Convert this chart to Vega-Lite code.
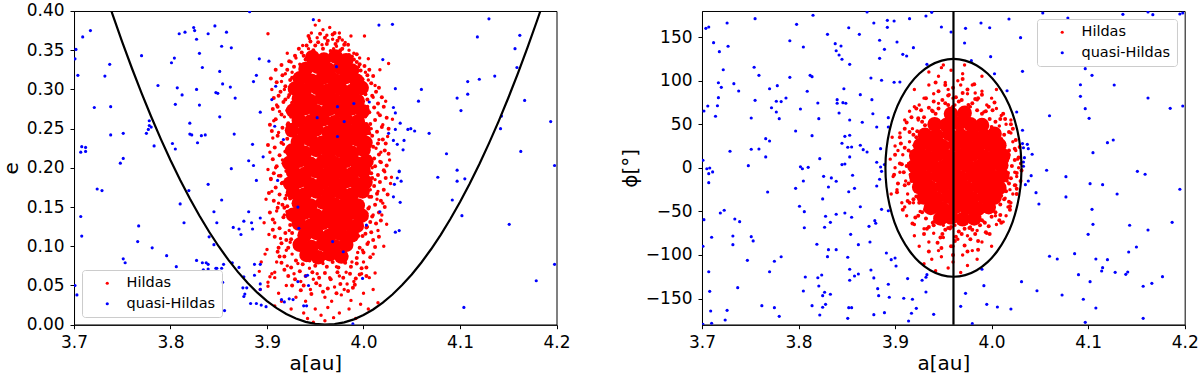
{
"$schema": "https://vega.github.io/schema/vega-lite/v6.json",
"background": "white",
"padding": {"left": 0, "top": 1, "right": 0, "bottom": 0},
"spacing": 48,
"config": {
 "font": "DejaVu Sans",
 "view": {"stroke": "black", "strokeWidth": 1},
 "axis": {"grid": false, "domainColor": "black", "domainWidth": 1, "tickColor": "black", "tickWidth": 1, "tickSize": 4, "labelPadding": 6, "labelColor": "black", "labelFontSize": 17, "labelFont": "DejaVu Sans", "titleFont": "DejaVu Sans", "titleFontSize": 20, "titleFontWeight": "normal", "titleColor": "black", "labelFlush": false, "labelOverlap": false, "labelBound": false},
 "axisY": {"titlePadding": 5},
 "axisX": {"titlePadding": 3},
 "legend": {"title": null, "fillColor": "rgba(255,255,255,0.8)", "strokeColor": "#cccccc", "cornerRadius": 3, "padding": 6, "symbolType": "circle", "symbolSize": 10, "symbolOffset": 12, "labelOffset": 12, "labelFontSize": 14.5, "labelFont": "DejaVu Sans", "labelColor": "black", "rowPadding": 5.5, "symbolStrokeWidth": 0, "offset": 8}
},
"resolve": {"scale": {"color": "independent"}, "legend": {"color": "independent"}},
"datasets": {
 "lc": [
{"a":3.947,"e":0.341},{"a":3.959,"e":0.338},{"a":3.971,"e":0.342},{"a":3.982,"e":0.337},
{"a":3.940,"e":0.326},{"a":3.952,"e":0.329},{"a":3.964,"e":0.325},{"a":3.976,"e":0.328},{"a":3.988,"e":0.324},
{"a":3.934,"e":0.314},{"a":3.946,"e":0.311},{"a":3.958,"e":0.315},{"a":3.970,"e":0.312},{"a":3.982,"e":0.316},{"a":3.993,"e":0.311},
{"a":3.929,"e":0.301},{"a":3.939,"e":0.298},{"a":3.952,"e":0.302},{"a":3.964,"e":0.299},{"a":3.976,"e":0.301},{"a":3.988,"e":0.298},{"a":3.998,"e":0.302},
{"a":3.933,"e":0.288},{"a":3.945,"e":0.285},{"a":3.957,"e":0.289},{"a":3.970,"e":0.286},{"a":3.982,"e":0.288},{"a":3.994,"e":0.285},
{"a":3.927,"e":0.273},{"a":3.939,"e":0.276},{"a":3.951,"e":0.272},{"a":3.964,"e":0.275},{"a":3.976,"e":0.273},{"a":3.988,"e":0.276},{"a":3.999,"e":0.272},
{"a":3.933,"e":0.261},{"a":3.945,"e":0.259},{"a":3.958,"e":0.262},{"a":3.970,"e":0.258},{"a":3.982,"e":0.261},{"a":3.994,"e":0.259},
{"a":3.926,"e":0.248},{"a":3.939,"e":0.246},{"a":3.951,"e":0.249},{"a":3.964,"e":0.245},{"a":3.976,"e":0.248},{"a":3.988,"e":0.246},{"a":4.000,"e":0.249},
{"a":3.932,"e":0.233},{"a":3.945,"e":0.236},{"a":3.957,"e":0.232},{"a":3.970,"e":0.235},{"a":3.982,"e":0.233},{"a":3.994,"e":0.236},{"a":4.002,"e":0.232},
{"a":3.926,"e":0.222},{"a":3.939,"e":0.219},{"a":3.951,"e":0.223},{"a":3.964,"e":0.220},{"a":3.976,"e":0.222},{"a":3.988,"e":0.219},{"a":4.000,"e":0.223},
{"a":3.923,"e":0.206},{"a":3.933,"e":0.209},{"a":3.945,"e":0.205},{"a":3.958,"e":0.208},{"a":3.970,"e":0.206},{"a":3.982,"e":0.209},{"a":3.994,"e":0.205},{"a":4.003,"e":0.208},
{"a":3.927,"e":0.195},{"a":3.939,"e":0.192},{"a":3.951,"e":0.196},{"a":3.964,"e":0.193},{"a":3.976,"e":0.195},{"a":3.988,"e":0.192},{"a":4.000,"e":0.196},
{"a":3.924,"e":0.180},{"a":3.933,"e":0.183},{"a":3.945,"e":0.179},{"a":3.958,"e":0.182},{"a":3.970,"e":0.180},{"a":3.982,"e":0.183},{"a":3.994,"e":0.179},{"a":4.002,"e":0.182},
{"a":3.927,"e":0.169},{"a":3.939,"e":0.166},{"a":3.951,"e":0.170},{"a":3.964,"e":0.167},{"a":3.976,"e":0.169},{"a":3.988,"e":0.166},{"a":3.999,"e":0.170},
{"a":3.933,"e":0.155},{"a":3.945,"e":0.152},{"a":3.958,"e":0.156},{"a":3.970,"e":0.153},{"a":3.982,"e":0.155},{"a":3.994,"e":0.152},
{"a":3.927,"e":0.140},{"a":3.939,"e":0.143},{"a":3.951,"e":0.139},{"a":3.964,"e":0.142},{"a":3.976,"e":0.140},{"a":3.988,"e":0.143},{"a":3.998,"e":0.139},
{"a":3.933,"e":0.129},{"a":3.945,"e":0.126},{"a":3.958,"e":0.130},{"a":3.970,"e":0.127},{"a":3.982,"e":0.129},{"a":3.993,"e":0.126},
{"a":3.939,"e":0.114},{"a":3.951,"e":0.117},{"a":3.964,"e":0.113},{"a":3.976,"e":0.116},{"a":3.988,"e":0.114},
{"a":3.934,"e":0.102},{"a":3.946,"e":0.099},{"a":3.958,"e":0.103},{"a":3.970,"e":0.100},{"a":3.982,"e":0.102},
{"a":3.941,"e":0.089},{"a":3.953,"e":0.086},{"a":3.965,"e":0.090},{"a":3.977,"e":0.087}
 ],
 "lm": [
{"a":3.918,"e":0.087},{"a":3.911,"e":0.093},{"a":3.922,"e":0.098},{"a":3.915,"e":0.104},{"a":3.925,"e":0.109},{"a":3.908,"e":0.112},{"a":3.919,"e":0.117},{"a":3.913,"e":0.123},{"a":3.924,"e":0.127},{"a":3.906,"e":0.134},{"a":3.917,"e":0.137},{"a":3.921,"e":0.144},{"a":3.911,"e":0.149},{"a":3.916,"e":0.153},{"a":3.907,"e":0.158},{"a":3.919,"e":0.161},{"a":3.913,"e":0.166},{"a":3.923,"e":0.172},{"a":3.909,"e":0.175},{"a":3.916,"e":0.181},{"a":3.904,"e":0.186},{"a":3.914,"e":0.190},{"a":3.920,"e":0.196},{"a":3.910,"e":0.202},{"a":3.917,"e":0.206},{"a":3.906,"e":0.211},{"a":3.913,"e":0.216},{"a":3.919,"e":0.221},{"a":3.908,"e":0.226},{"a":3.915,"e":0.232},{"a":3.921,"e":0.237},{"a":3.911,"e":0.241},{"a":3.905,"e":0.247},{"a":3.916,"e":0.251},{"a":3.922,"e":0.257},{"a":3.909,"e":0.262},{"a":3.915,"e":0.268},{"a":3.921,"e":0.273},{"a":3.911,"e":0.278},{"a":3.917,"e":0.284},{"a":3.907,"e":0.289},{"a":3.923,"e":0.293},{"a":3.914,"e":0.297},{"a":3.919,"e":0.304},{"a":3.910,"e":0.309},{"a":3.924,"e":0.312},{"a":3.916,"e":0.318},{"a":3.921,"e":0.325},{"a":3.928,"e":0.329},{"a":3.923,"e":0.336},{"a":3.929,"e":0.343},
{"a":3.993,"e":0.085},{"a":4.000,"e":0.092},{"a":3.996,"e":0.098},{"a":4.004,"e":0.103},{"a":4.010,"e":0.108},{"a":3.999,"e":0.113},{"a":4.008,"e":0.118},{"a":4.003,"e":0.124},{"a":4.013,"e":0.129},{"a":4.000,"e":0.134},{"a":4.009,"e":0.138},{"a":4.016,"e":0.143},{"a":4.005,"e":0.148},{"a":4.012,"e":0.153},{"a":4.018,"e":0.158},{"a":4.008,"e":0.163},{"a":4.014,"e":0.167},{"a":4.021,"e":0.172},{"a":4.011,"e":0.177},{"a":4.017,"e":0.182},{"a":4.009,"e":0.187},{"a":4.015,"e":0.191},{"a":4.021,"e":0.197},{"a":4.012,"e":0.202},{"a":4.018,"e":0.207},{"a":4.011,"e":0.212},{"a":4.016,"e":0.217},{"a":4.022,"e":0.222},{"a":4.010,"e":0.227},{"a":4.015,"e":0.231},{"a":4.020,"e":0.236},{"a":4.009,"e":0.241},{"a":4.014,"e":0.246},{"a":4.019,"e":0.252},{"a":4.007,"e":0.256},{"a":4.012,"e":0.261},{"a":4.017,"e":0.267},{"a":4.006,"e":0.271},{"a":4.011,"e":0.277},{"a":4.015,"e":0.282},{"a":4.004,"e":0.287},{"a":4.009,"e":0.292},{"a":4.013,"e":0.297},{"a":4.003,"e":0.303},{"a":4.008,"e":0.308},{"a":3.999,"e":0.313},{"a":4.004,"e":0.318},{"a":3.997,"e":0.324},{"a":4.001,"e":0.330},{"a":3.993,"e":0.335},{"a":3.988,"e":0.342},
{"a":3.936,"e":0.347},{"a":3.941,"e":0.356},{"a":3.948,"e":0.350},{"a":3.953,"e":0.360},{"a":3.958,"e":0.352},{"a":3.963,"e":0.362},{"a":3.966,"e":0.349},{"a":3.971,"e":0.358},{"a":3.976,"e":0.350},{"a":3.980,"e":0.357},{"a":3.985,"e":0.344},{"a":3.940,"e":0.338},{"a":3.993,"e":0.345},{"a":3.960,"e":0.366},{"a":3.955,"e":0.371},{"a":3.945,"e":0.361},{"a":3.975,"e":0.366},{"a":3.970,"e":0.372},
{"a":3.930,"e":0.082},{"a":3.937,"e":0.077},{"a":3.944,"e":0.082},{"a":3.950,"e":0.075},{"a":3.957,"e":0.081},{"a":3.962,"e":0.074},{"a":3.968,"e":0.080},{"a":3.974,"e":0.073},{"a":3.981,"e":0.079},{"a":3.987,"e":0.074},{"a":3.993,"e":0.078},{"a":3.934,"e":0.068},{"a":3.940,"e":0.062},{"a":3.947,"e":0.067},{"a":3.954,"e":0.060},{"a":3.960,"e":0.066},{"a":3.966,"e":0.058},{"a":3.973,"e":0.067},{"a":3.979,"e":0.060},{"a":3.986,"e":0.065},{"a":3.992,"e":0.059},{"a":3.938,"e":0.050},{"a":3.951,"e":0.053},{"a":3.963,"e":0.046},{"a":3.976,"e":0.052},{"a":3.989,"e":0.047},{"a":3.929,"e":0.058},{"a":3.998,"e":0.072},{"a":4.003,"e":0.062},{"a":3.925,"e":0.073},
{"a":3.912,"e":0.098},{"a":3.906,"e":0.121},{"a":3.903,"e":0.143},{"a":3.921,"e":0.151},{"a":3.902,"e":0.168},{"a":3.924,"e":0.184},{"a":3.907,"e":0.193},{"a":3.901,"e":0.229},{"a":3.924,"e":0.228},{"a":3.903,"e":0.255},{"a":3.925,"e":0.265},{"a":3.906,"e":0.275},{"a":3.912,"e":0.292},{"a":3.904,"e":0.314},{"a":3.915,"e":0.331},{"a":3.919,"e":0.287},{"a":3.925,"e":0.301},{"a":3.926,"e":0.315},{"a":3.909,"e":0.325},{"a":3.933,"e":0.352},{"a":3.938,"e":0.343},{"a":3.943,"e":0.368},{"a":3.950,"e":0.356},{"a":3.962,"e":0.358},{"a":3.968,"e":0.370},{"a":3.973,"e":0.362},{"a":3.978,"e":0.352},{"a":3.984,"e":0.357},{"a":3.990,"e":0.338},{"a":3.996,"e":0.332},{"a":4.006,"e":0.325},{"a":4.010,"e":0.317},{"a":4.016,"e":0.302},{"a":4.019,"e":0.290},{"a":4.021,"e":0.278},{"a":4.024,"e":0.264},{"a":4.026,"e":0.250},{"a":4.023,"e":0.231},{"a":4.026,"e":0.218},{"a":4.024,"e":0.203},{"a":4.023,"e":0.187},{"a":4.025,"e":0.166},{"a":4.022,"e":0.150},{"a":4.018,"e":0.133},{"a":4.016,"e":0.112},{"a":4.012,"e":0.099},{"a":4.007,"e":0.086},{"a":4.003,"e":0.073},{"a":3.996,"e":0.064},{"a":3.991,"e":0.051},{"a":3.984,"e":0.043},{"a":3.972,"e":0.040},{"a":3.958,"e":0.042},{"a":3.946,"e":0.039},{"a":3.935,"e":0.044},{"a":3.926,"e":0.050},{"a":3.922,"e":0.062},{"a":3.918,"e":0.070},{"a":3.915,"e":0.079},{"a":3.913,"e":0.087},{"a":3.920,"e":0.108},{"a":3.926,"e":0.117},{"a":3.925,"e":0.136},{"a":3.918,"e":0.149},{"a":3.924,"e":0.161},{"a":3.925,"e":0.196},{"a":3.924,"e":0.213},{"a":3.925,"e":0.243},{"a":3.926,"e":0.283},{"a":4.002,"e":0.116},{"a":4.007,"e":0.131},{"a":4.003,"e":0.142},{"a":4.006,"e":0.163},{"a":4.008,"e":0.193},{"a":4.006,"e":0.214},{"a":4.005,"e":0.222},{"a":4.006,"e":0.244},{"a":4.003,"e":0.256},{"a":4.004,"e":0.278},{"a":4.002,"e":0.294}
 ],
 "lr": [
{"a":3.937,"e":0.356},{"a":3.950,"e":0.382},{"a":3.954,"e":0.388},{"a":3.946,"e":0.372},{"a":3.958,"e":0.376},{"a":3.962,"e":0.369},{"a":3.968,"e":0.364},{"a":3.975,"e":0.372},{"a":3.981,"e":0.360},{"a":3.972,"e":0.355},{"a":3.985,"e":0.350},{"a":3.990,"e":0.346},{"a":3.921,"e":0.346},{"a":3.930,"e":0.340},{"a":3.943,"e":0.352},{"a":3.996,"e":0.340},{"a":4.001,"e":0.368},{"a":4.005,"e":0.339},{"a":3.901,"e":0.371},{"a":3.965,"e":0.379},{"a":3.944,"e":0.365},{"a":3.978,"e":0.363},{"a":3.957,"e":0.357},{"a":3.934,"e":0.332},{"a":3.995,"e":0.329},{"a":4.002,"e":0.322},{"a":3.926,"e":0.322},{"a":3.987,"e":0.368},{"a":3.952,"e":0.366},{"a":3.969,"e":0.352},
{"a":3.905,"e":0.300},{"a":3.910,"e":0.280},{"a":3.915,"e":0.310},{"a":3.907,"e":0.260},{"a":3.912,"e":0.245},{"a":3.903,"e":0.220},{"a":3.909,"e":0.200},{"a":3.915,"e":0.180},{"a":3.905,"e":0.170},{"a":3.912,"e":0.155},{"a":3.918,"e":0.140},{"a":3.908,"e":0.130},{"a":3.914,"e":0.110},{"a":3.920,"e":0.095},{"a":3.910,"e":0.080},{"a":3.919,"e":0.320},{"a":3.922,"e":0.290},{"a":3.918,"e":0.265},{"a":3.917,"e":0.230},{"a":3.916,"e":0.210},{"a":3.912,"e":0.190},{"a":3.920,"e":0.165},{"a":3.923,"e":0.120},{"a":3.901,"e":0.198},{"a":3.900,"e":0.096},{"a":3.925,"e":0.335},{"a":3.897,"e":0.130},{"a":3.902,"e":0.115},{"a":3.898,"e":0.090},{"a":3.910,"e":0.145},{"a":3.899,"e":0.160},{"a":3.894,"e":0.080},{"a":3.906,"e":0.238},{"a":3.913,"e":0.272},{"a":3.904,"e":0.185},{"a":3.921,"e":0.255},{"a":3.924,"e":0.105},{"a":3.918,"e":0.300},{"a":3.926,"e":0.090},
{"a":4.005,"e":0.312},{"a":4.010,"e":0.290},{"a":4.015,"e":0.270},{"a":4.020,"e":0.255},{"a":4.025,"e":0.240},{"a":4.018,"e":0.220},{"a":4.027,"e":0.210},{"a":4.022,"e":0.195},{"a":4.028,"e":0.180},{"a":4.015,"e":0.170},{"a":4.020,"e":0.155},{"a":4.010,"e":0.140},{"a":4.015,"e":0.120},{"a":4.005,"e":0.105},{"a":4.010,"e":0.090},{"a":4.000,"e":0.080},{"a":4.012,"e":0.305},{"a":4.008,"e":0.250},{"a":4.009,"e":0.200},{"a":4.013,"e":0.225},{"a":4.026,"e":0.333},{"a":4.017,"e":0.325},{"a":4.030,"e":0.262},{"a":4.029,"e":0.188},{"a":4.006,"e":0.150},{"a":4.004,"e":0.125},{"a":4.021,"e":0.100},{"a":4.012,"e":0.066},{"a":4.006,"e":0.060},{"a":4.016,"e":0.236},{"a":4.012,"e":0.185},{"a":4.019,"e":0.140},{"a":3.999,"e":0.095},{"a":4.023,"e":0.285},{"a":4.014,"e":0.160},{"a":4.002,"e":0.265},{"a":4.017,"e":0.208},{"a":4.007,"e":0.172},{"a":4.024,"e":0.128},{"a":3.995,"e":0.113},
{"a":3.942,"e":0.008},{"a":3.969,"e":0.009},{"a":4.015,"e":0.028},{"a":3.997,"e":0.026},{"a":3.987,"e":0.031},{"a":3.950,"e":0.020},{"a":3.960,"e":0.035},{"a":3.975,"e":0.015},{"a":3.945,"e":0.045},{"a":3.935,"e":0.055},{"a":3.955,"e":0.050},{"a":3.965,"e":0.060},{"a":3.980,"e":0.045},{"a":3.990,"e":0.055},{"a":4.000,"e":0.040},{"a":3.930,"e":0.035},{"a":3.940,"e":0.030},{"a":3.960,"e":0.005},{"a":3.977,"e":0.038},{"a":3.985,"e":0.020},{"a":3.952,"e":0.065},{"a":3.970,"e":0.048},{"a":3.928,"e":0.065},{"a":4.005,"e":0.020},{"a":3.920,"e":0.050},{"a":3.915,"e":0.030},{"a":3.908,"e":0.060},{"a":3.912,"e":0.040},{"a":3.925,"e":0.020},{"a":4.010,"e":0.045},{"a":3.998,"e":0.065},{"a":3.938,"e":0.015},{"a":3.948,"e":0.003},{"a":3.992,"e":0.008},{"a":3.963,"e":0.022},{"a":3.982,"e":0.067},{"a":3.944,"e":0.072},{"a":3.921,"e":0.075},{"a":3.905,"e":0.065},{"a":3.892,"e":0.068},{"a":3.893,"e":0.045},{"a":3.901,"e":0.054},{"a":3.901,"e":0.049},{"a":3.908,"e":0.067},{"a":3.903,"e":0.061},{"a":3.908,"e":0.024},{"a":3.932,"e":0.078},{"a":3.958,"e":0.078},{"a":3.972,"e":0.074},{"a":3.988,"e":0.080},{"a":3.936,"e":0.090},{"a":3.994,"e":0.092},{"a":3.948,"e":0.058},{"a":3.975,"e":0.062},{"a":3.967,"e":0.030},{"a":3.956,"e":0.012},{"a":3.983,"e":0.052}
 ],
 "lb": [
{"a":3.882,"e":0.399},{"a":3.717,"e":0.375},{"a":3.709,"e":0.367},{"a":3.702,"e":0.351},{"a":3.701,"e":0.339},{"a":3.704,"e":0.318},{"a":3.737,"e":0.332},{"a":3.732,"e":0.317},{"a":3.721,"e":0.277},{"a":3.738,"e":0.278},{"a":3.738,"e":0.242},{"a":3.751,"e":0.244},{"a":3.751,"e":0.212},{"a":3.748,"e":0.206},{"a":3.708,"e":0.227},{"a":3.712,"e":0.226},{"a":3.707,"e":0.220},{"a":3.712,"e":0.221},{"a":3.770,"e":0.343},{"a":3.787,"e":0.305},{"a":3.778,"e":0.260},{"a":3.778,"e":0.254},{"a":3.780,"e":0.252},{"a":3.777,"e":0.249},{"a":3.775,"e":0.244},{"a":3.783,"e":0.228},{"a":3.801,"e":0.334},{"a":3.804,"e":0.340},{"a":3.809,"e":0.371},{"a":3.815,"e":0.373},{"a":3.824,"e":0.379},{"a":3.825,"e":0.375},{"a":3.827,"e":0.364},{"a":3.830,"e":0.346},{"a":3.833,"e":0.328},{"a":3.807,"e":0.302},{"a":3.812,"e":0.293},{"a":3.805,"e":0.281},{"a":3.827,"e":0.300},{"a":3.830,"e":0.280},{"a":3.820,"e":0.257},{"a":3.820,"e":0.243},{"a":3.822,"e":0.242},{"a":3.832,"e":0.241},{"a":3.836,"e":0.242},{"a":3.828,"e":0.232},{"a":3.802,"e":0.231},{"a":3.805,"e":0.224},{"a":3.839,"e":0.371},{"a":3.846,"e":0.381},{"a":3.858,"e":0.373},{"a":3.853,"e":0.355},{"a":3.863,"e":0.353},{"a":3.851,"e":0.323},{"a":3.854,"e":0.307},{"a":3.847,"e":0.296},{"a":3.849,"e":0.295},{"a":3.862,"e":0.303},{"a":3.867,"e":0.289},{"a":3.851,"e":0.265},{"a":3.866,"e":0.243},{"a":3.885,"e":0.230},{"a":3.881,"e":0.209},{"a":3.886,"e":0.203},{"a":3.863,"e":0.199},{"a":3.896,"e":0.214},{"a":3.892,"e":0.339},{"a":3.902,"e":0.336},{"a":3.889,"e":0.318},{"a":3.886,"e":0.310},{"a":3.909,"e":0.304},{"a":3.905,"e":0.287},{"a":3.893,"e":0.271},{"a":3.908,"e":0.253},{"a":3.917,"e":0.236},
{"a":3.948,"e":0.389},{"a":4.016,"e":0.382},{"a":4.030,"e":0.383},{"a":4.130,"e":0.390},{"a":4.118,"e":0.367},{"a":4.162,"e":0.369},{"a":4.157,"e":0.352},{"a":4.159,"e":0.328},{"a":4.136,"e":0.317},{"a":4.120,"e":0.313},{"a":4.108,"e":0.310},{"a":4.108,"e":0.294},{"a":4.097,"e":0.289},{"a":4.101,"e":0.273},{"a":4.167,"e":0.286},{"a":4.143,"e":0.266},{"a":4.142,"e":0.250},{"a":4.194,"e":0.259},{"a":4.163,"e":0.221},{"a":4.198,"e":0.203},{"a":4.020,"e":0.338},{"a":3.972,"e":0.329},{"a":4.033,"e":0.301},{"a":4.060,"e":0.300},{"a":4.057,"e":0.285},{"a":3.990,"e":0.282},{"a":4.006,"e":0.284},{"a":3.973,"e":0.278},{"a":4.031,"e":0.277},{"a":4.033,"e":0.270},{"a":3.952,"e":0.264},{"a":3.980,"e":0.259},{"a":4.038,"e":0.257},{"a":4.033,"e":0.249},{"a":4.046,"e":0.249},{"a":4.049,"e":0.250},{"a":4.053,"e":0.247},{"a":4.068,"e":0.244},{"a":4.026,"e":0.244},{"a":3.973,"e":0.240},{"a":4.031,"e":0.235},{"a":4.035,"e":0.230},{"a":4.042,"e":0.235},{"a":4.041,"e":0.223},{"a":4.086,"e":0.218},{"a":4.097,"e":0.197},{"a":4.037,"e":0.196},
{"a":3.724,"e":0.173},{"a":3.729,"e":0.171},{"a":3.707,"e":0.138},{"a":3.708,"e":0.113},{"a":3.701,"e":0.050},{"a":3.703,"e":0.038},{"a":3.767,"e":0.126},{"a":3.766,"e":0.106},{"a":3.781,"e":0.098},{"a":3.751,"e":0.084},{"a":3.753,"e":0.079},{"a":3.796,"e":0.088},{"a":3.806,"e":0.074},{"a":3.839,"e":0.179},{"a":3.819,"e":0.171},{"a":3.810,"e":0.154},{"a":3.814,"e":0.130},{"a":3.853,"e":0.159},{"a":3.845,"e":0.144},{"a":3.848,"e":0.130},{"a":3.840,"e":0.112},{"a":3.845,"e":0.102},{"a":3.865,"e":0.124},{"a":3.871,"e":0.122},{"a":3.873,"e":0.115},{"a":3.876,"e":0.132},{"a":3.881,"e":0.144},{"a":3.884,"e":0.130},{"a":3.885,"e":0.122},{"a":3.893,"e":0.136},{"a":3.889,"e":0.184},{"a":3.827,"e":0.082},{"a":3.833,"e":0.079},{"a":3.837,"e":0.079},{"a":3.839,"e":0.077},{"a":3.834,"e":0.070},{"a":3.839,"e":0.071},{"a":3.847,"e":0.072},{"a":3.848,"e":0.072},{"a":3.853,"e":0.072},{"a":3.855,"e":0.077},{"a":3.864,"e":0.079},{"a":3.871,"e":0.073},{"a":3.854,"e":0.054},{"a":3.876,"e":0.061},{"a":3.887,"e":0.077},{"a":3.893,"e":0.077},{"a":3.887,"e":0.063},{"a":3.893,"e":0.052},{"a":3.875,"e":0.047},{"a":3.879,"e":0.047},{"a":3.877,"e":0.039},{"a":3.876,"e":0.036},{"a":3.893,"e":0.045},{"a":3.883,"e":0.027},{"a":3.889,"e":0.027},{"a":3.894,"e":0.025},{"a":3.899,"e":0.023},{"a":3.856,"e":0.018},{"a":3.915,"e":0.032},{"a":3.918,"e":0.029},{"a":3.923,"e":0.033},{"a":3.927,"e":0.032},{"a":3.938,"e":0.024},{"a":3.941,"e":0.024},{"a":3.911,"e":0.184},{"a":3.932,"e":0.150},{"a":3.933,"e":0.123},{"a":3.932,"e":0.055},{"a":3.942,"e":0.063},{"a":3.943,"e":0.050},
{"a":4.037,"e":0.195},{"a":4.035,"e":0.187},{"a":4.039,"e":0.183},{"a":4.032,"e":0.179},{"a":4.097,"e":0.183},{"a":4.105,"e":0.186},{"a":4.077,"e":0.188},{"a":4.031,"e":0.163},{"a":4.038,"e":0.156},{"a":4.017,"e":0.144},{"a":4.092,"e":0.159},{"a":4.102,"e":0.139},{"a":4.151,"e":0.128},{"a":4.003,"e":0.127},{"a":4.033,"e":0.118},{"a":4.037,"e":0.120},{"a":3.968,"e":0.106},{"a":3.979,"e":0.093},{"a":4.198,"e":0.077},{"a":4.179,"e":0.056},{"a":3.940,"e":0.062},{"a":3.999,"e":0.059},{"a":4.104,"e":0.022},{"a":3.989,"e":0.001}
 ],
 "lp": [
{"a":3.7387,"e":0.4},{"a":3.74,"e":0.3953},{"a":3.75,"e":0.3604},{"a":3.76,"e":0.327},{"a":3.77,"e":0.2953},{"a":3.78,"e":0.2652},{"a":3.79,"e":0.2367},{"a":3.80,"e":0.2098},{"a":3.81,"e":0.1846},{"a":3.82,"e":0.1609},{"a":3.83,"e":0.1389},{"a":3.84,"e":0.1185},{"a":3.85,"e":0.0997},{"a":3.86,"e":0.0826},{"a":3.87,"e":0.067},{"a":3.88,"e":0.0531},{"a":3.89,"e":0.0408},{"a":3.90,"e":0.0301},{"a":3.91,"e":0.0211},{"a":3.92,"e":0.0136},{"a":3.93,"e":0.0078},{"a":3.94,"e":0.0036},{"a":3.95,"e":0.001},{"a":3.96,"e":0.0},{"a":3.97,"e":0.0007},{"a":3.98,"e":0.0029},{"a":3.99,"e":0.0068},{"a":4.00,"e":0.0123},{"a":4.01,"e":0.0194},{"a":4.02,"e":0.0282},{"a":4.03,"e":0.0385},{"a":4.04,"e":0.0505},{"a":4.05,"e":0.0641},{"a":4.06,"e":0.0793},{"a":4.07,"e":0.0962},{"a":4.08,"e":0.1146},{"a":4.09,"e":0.1347},{"a":4.10,"e":0.1564},{"a":4.11,"e":0.1797},{"a":4.12,"e":0.2046},{"a":4.13,"e":0.2312},{"a":4.14,"e":0.2593},{"a":4.15,"e":0.2891},{"a":4.16,"e":0.3205},{"a":4.17,"e":0.3536},{"a":4.18,"e":0.3882},{"a":4.1833,"e":0.4}
 ],
 "rc": [
{"a":3.958,"p":62},{"a":3.972,"p":63},
{"a":3.941,"p":50},{"a":3.953,"p":49},{"a":3.966,"p":51},{"a":3.978,"p":50},{"a":3.990,"p":49},
{"a":3.931,"p":38},{"a":3.943,"p":37},{"a":3.956,"p":39},{"a":3.968,"p":37},{"a":3.980,"p":38},{"a":3.992,"p":37},{"a":4.003,"p":39},
{"a":3.926,"p":26},{"a":3.937,"p":27},{"a":3.949,"p":25},{"a":3.962,"p":27},{"a":3.974,"p":26},{"a":3.986,"p":25},{"a":3.998,"p":27},{"a":4.008,"p":26},
{"a":3.922,"p":14},{"a":3.932,"p":13},{"a":3.944,"p":15},{"a":3.956,"p":13},{"a":3.968,"p":14},{"a":3.980,"p":15},{"a":3.992,"p":13},{"a":4.004,"p":15},{"a":4.012,"p":14},
{"a":3.920,"p":2},{"a":3.926,"p":1},{"a":3.938,"p":3},{"a":3.950,"p":1},{"a":3.962,"p":2},{"a":3.974,"p":3},{"a":3.986,"p":1},{"a":3.998,"p":2},{"a":4.010,"p":3},
{"a":3.922,"p":-10},{"a":3.932,"p":-11},{"a":3.944,"p":-9},{"a":3.956,"p":-10},{"a":3.968,"p":-11},{"a":3.980,"p":-9},{"a":3.992,"p":-10},{"a":4.004,"p":-11},{"a":4.011,"p":-9},
{"a":3.925,"p":-22},{"a":3.937,"p":-23},{"a":3.949,"p":-21},{"a":3.962,"p":-22},{"a":3.974,"p":-23},{"a":3.986,"p":-21},{"a":3.998,"p":-22},{"a":4.008,"p":-23},
{"a":3.930,"p":-34},{"a":3.943,"p":-35},{"a":3.955,"p":-33},{"a":3.968,"p":-34},{"a":3.980,"p":-35},{"a":3.992,"p":-33},{"a":4.003,"p":-34},
{"a":3.937,"p":-46},{"a":3.949,"p":-47},{"a":3.962,"p":-45},{"a":3.974,"p":-46},{"a":3.986,"p":-47},{"a":3.997,"p":-45},
{"a":3.947,"p":-58},{"a":3.958,"p":-57},{"a":3.970,"p":-59},{"a":3.982,"p":-58}
 ],
 "rm": [
{"a":4.021,"p":2},{"a":4.026,"p":-6},{"a":4.024,"p":9},{"a":4.018,"p":20},{"a":4.024,"p":22},{"a":4.013,"p":38},{"a":4.018,"p":41},{"a":4.010,"p":33},{"a":4.004,"p":53},{"a":4.009,"p":56},{"a":4.000,"p":47},{"a":3.994,"p":65},{"a":3.997,"p":70},{"a":3.990,"p":62},{"a":3.980,"p":74},{"a":3.983,"p":79},{"a":3.976,"p":72},{"a":3.966,"p":76},{"a":3.963,"p":81},{"a":3.969,"p":78},{"a":3.952,"p":74},{"a":3.949,"p":78},{"a":3.955,"p":72},{"a":3.939,"p":65},{"a":3.935,"p":69},{"a":3.942,"p":62},{"a":3.928,"p":53},{"a":3.924,"p":57},{"a":3.931,"p":49},{"a":3.919,"p":38},{"a":3.915,"p":41},{"a":3.922,"p":35},{"a":3.914,"p":20},{"a":3.910,"p":23},{"a":3.917,"p":18},{"a":3.912,"p":2},{"a":3.907,"p":4},{"a":3.909,"p":-5},{"a":3.914,"p":-18},{"a":3.910,"p":-20},{"a":3.917,"p":-15},{"a":3.919,"p":-36},{"a":3.915,"p":-40},{"a":3.922,"p":-33},{"a":3.928,"p":-51},{"a":3.924,"p":-55},{"a":3.931,"p":-48},{"a":3.939,"p":-63},{"a":3.935,"p":-68},{"a":3.942,"p":-60},{"a":3.952,"p":-71},{"a":3.949,"p":-76},{"a":3.955,"p":-69},{"a":3.966,"p":-73},{"a":3.963,"p":-79},{"a":3.969,"p":-76},{"a":3.980,"p":-71},{"a":3.983,"p":-76},{"a":3.977,"p":-69},{"a":3.993,"p":-63},{"a":3.997,"p":-67},{"a":3.990,"p":-60},{"a":4.004,"p":-51},{"a":4.009,"p":-54},{"a":4.000,"p":-47},{"a":4.013,"p":-36},{"a":4.018,"p":-39},{"a":4.010,"p":-32},{"a":4.018,"p":-18},{"a":4.024,"p":-20},{"a":4.020,"p":-12},
{"a":4.028,"p":12},{"a":4.030,"p":-15},{"a":4.025,"p":32},{"a":4.020,"p":50},{"a":4.012,"p":62},{"a":4.003,"p":75},{"a":3.990,"p":84},{"a":3.975,"p":90},{"a":3.960,"p":92},{"a":3.945,"p":88},{"a":3.932,"p":80},{"a":3.922,"p":68},{"a":3.912,"p":52},{"a":3.905,"p":35},{"a":3.900,"p":15},{"a":3.899,"p":-8},{"a":3.902,"p":-28},{"a":3.908,"p":-48},{"a":3.918,"p":-64},{"a":3.930,"p":-76},{"a":3.944,"p":-86},{"a":3.958,"p":-90},{"a":3.972,"p":-89},{"a":3.986,"p":-84},{"a":3.998,"p":-76},{"a":4.010,"p":-63},{"a":4.019,"p":-48},{"a":4.026,"p":-30},
{"a":3.905,"p":5},{"a":3.903,"p":-18},{"a":3.906,"p":28},{"a":3.910,"p":45},{"a":3.913,"p":-38},{"a":3.917,"p":58},{"a":3.921,"p":-57},{"a":3.927,"p":66},{"a":3.933,"p":-70},{"a":3.940,"p":76},{"a":3.947,"p":-80},{"a":3.955,"p":83},{"a":3.962,"p":-84},{"a":3.970,"p":86},{"a":3.978,"p":-82},{"a":3.986,"p":80},{"a":3.994,"p":-74},{"a":4.001,"p":66},{"a":4.008,"p":-60},{"a":4.014,"p":56},{"a":4.019,"p":-44},{"a":4.022,"p":45},{"a":4.026,"p":-24},{"a":4.029,"p":24},{"a":4.031,"p":-3},{"a":3.918,"p":10},{"a":3.916,"p":-8},{"a":3.920,"p":26},{"a":3.921,"p":-25},{"a":3.923,"p":42},{"a":3.925,"p":-40},{"a":3.930,"p":58},{"a":3.932,"p":-58},{"a":3.945,"p":68},{"a":3.940,"p":-66},{"a":3.960,"p":70},{"a":3.958,"p":-68},{"a":3.973,"p":69},{"a":3.972,"p":-70},{"a":3.985,"p":66},{"a":3.988,"p":-66},{"a":3.998,"p":56},{"a":4.000,"p":-56},{"a":4.007,"p":43},{"a":4.009,"p":-42},{"a":4.013,"p":28},{"a":4.015,"p":-27},{"a":4.016,"p":8},{"a":4.017,"p":-6},{"a":3.952,"p":95},{"a":3.970,"p":102},{"a":3.942,"p":98},{"a":3.982,"p":96},{"a":3.960,"p":-100},{"a":3.948,"p":-92},{"a":3.975,"p":-96},{"a":3.986,"p":-94},{"a":3.935,"p":-96}
 ],
 "rr": [
{"a":3.950,"p":118},{"a":3.958,"p":112},{"a":3.970,"p":108},{"a":3.965,"p":100},{"a":3.945,"p":105},{"a":3.935,"p":95},{"a":3.980,"p":95},{"a":3.990,"p":88},{"a":3.955,"p":90},{"a":3.975,"p":85},{"a":3.940,"p":85},{"a":3.930,"p":80},{"a":3.960,"p":80},{"a":3.985,"p":78},{"a":3.995,"p":72},{"a":3.925,"p":72},{"a":4.000,"p":80},{"a":3.948,"p":115},{"a":3.972,"p":118},{"a":3.990,"p":105},{"a":3.935,"p":110},{"a":3.920,"p":90},{"a":4.005,"p":90},{"a":3.968,"p":95},{"a":3.952,"p":98},{"a":3.945,"p":74},{"a":3.962,"p":72},{"a":3.978,"p":70},{"a":3.938,"p":66},{"a":3.992,"p":64},{"a":3.956,"p":84},{"a":3.983,"p":86},
{"a":3.895,"p":10},{"a":3.900,"p":25},{"a":3.905,"p":40},{"a":3.910,"p":55},{"a":3.898,"p":-10},{"a":3.902,"p":-25},{"a":3.907,"p":-40},{"a":3.912,"p":-55},{"a":3.915,"p":65},{"a":3.920,"p":-65},{"a":3.900,"p":0},{"a":3.908,"p":15},{"a":3.911,"p":-15},{"a":3.905,"p":-5},{"a":3.915,"p":30},{"a":3.913,"p":-30},{"a":3.918,"p":45},{"a":3.897,"p":35},{"a":3.896,"p":-30},{"a":3.920,"p":70},{"a":3.924,"p":55},{"a":3.926,"p":-50},{"a":3.914,"p":5},{"a":3.910,"p":-45},{"a":3.903,"p":20},{"a":3.919,"p":-40},
{"a":4.020,"p":40},{"a":4.025,"p":20},{"a":4.028,"p":0},{"a":4.025,"p":-20},{"a":4.020,"p":-40},{"a":4.015,"p":-55},{"a":4.010,"p":60},{"a":4.015,"p":50},{"a":4.022,"p":30},{"a":4.027,"p":10},{"a":4.026,"p":-10},{"a":4.022,"p":-30},{"a":4.017,"p":-45},{"a":4.012,"p":-62},{"a":4.005,"p":68},{"a":4.018,"p":15},{"a":4.016,"p":-15},{"a":4.030,"p":5},{"a":4.024,"p":-5},{"a":4.020,"p":55},{"a":4.008,"p":48},{"a":4.014,"p":-35},{"a":4.004,"p":-55},{"a":4.019,"p":-25},
{"a":3.955,"p":-115},{"a":3.960,"p":-108},{"a":3.970,"p":-100},{"a":3.945,"p":-95},{"a":3.980,"p":-95},{"a":3.935,"p":-85},{"a":3.990,"p":-85},{"a":3.960,"p":-90},{"a":3.950,"p":-80},{"a":3.975,"p":-78},{"a":3.940,"p":-75},{"a":3.930,"p":-70},{"a":3.985,"p":-72},{"a":3.995,"p":-75},{"a":3.965,"p":-82},{"a":3.948,"p":-102},{"a":3.975,"p":-112},{"a":3.938,"p":-105},{"a":3.985,"p":-105},{"a":3.925,"p":-90},{"a":3.957,"p":-70},{"a":3.968,"p":-120},{"a":3.942,"p":-118},{"a":4.000,"p":-90},{"a":3.930,"p":-110},{"a":3.962,"p":-66},{"a":3.978,"p":-68},{"a":3.950,"p":-66},{"a":3.992,"p":-62},{"a":3.940,"p":-62},{"a":3.920,"p":-78},{"a":4.005,"p":-65}
 ],
 "rb": [
{"a":3.704,"p":160.1},{"a":3.707,"p":161.6},{"a":3.726,"p":166.2},{"a":3.755,"p":171.2},{"a":3.815,"p":175.1},{"a":3.871,"p":178.9},{"a":3.798,"p":164.7},{"a":3.712,"p":143.7},{"a":3.727,"p":139.5},{"a":3.718,"p":133.3},{"a":3.722,"p":112.6},{"a":3.754,"p":115.4},{"a":3.759,"p":106.2},{"a":3.717,"p":97.7},{"a":3.720,"p":92.4},{"a":3.733,"p":96.6},{"a":3.738,"p":88.2},{"a":3.717,"p":80.5},{"a":3.716,"p":71.3},{"a":3.706,"p":71.0},{"a":3.702,"p":65.2},{"a":3.714,"p":59.2},{"a":3.755,"p":77.5},{"a":3.770,"p":90.8},{"a":3.778,"p":94.3},{"a":3.791,"p":103.9},{"a":3.777,"p":76.4},{"a":3.782,"p":76.0},{"a":3.787,"p":80.2},{"a":3.772,"p":69.0},{"a":3.777,"p":64.1},{"a":3.780,"p":56.4},{"a":3.751,"p":57.2},{"a":3.791,"p":145.9},{"a":3.805,"p":138.7},{"a":3.812,"p":106.2},{"a":3.814,"p":104.6},{"a":3.809,"p":87.9},{"a":3.802,"p":67.5},{"a":3.820,"p":74.4},{"a":3.821,"p":56.4},{"a":3.797,"p":42.3},{"a":3.814,"p":36.9},{"a":3.766,"p":33.5},{"a":3.770,"p":30.8},{"a":3.729,"p":19.0},{"a":3.751,"p":21.3},{"a":3.759,"p":21.6},{"a":3.766,"p":12.5},{"a":3.701,"p":8.7},{"a":3.748,"p":2.5},{"a":3.705,"p":-1.0},{"a":3.708,"p":-0.2},{"a":3.802,"p":1.3},{"a":3.810,"p":0.6},{"a":3.804,"p":-1.0},{"a":3.822,"p":10.5},{"a":3.830,"p":153.2},{"a":3.838,"p":142.5},{"a":3.844,"p":139.8},{"a":3.839,"p":134.4},{"a":3.842,"p":129.5},{"a":3.845,"p":124.6},{"a":3.852,"p":160.8},{"a":3.863,"p":153.2},{"a":3.853,"p":118.8},{"a":3.878,"p":166.2},{"a":3.892,"p":169.3},{"a":3.899,"p":168.5},{"a":3.892,"p":161.3},{"a":3.884,"p":146.4},{"a":3.889,"p":136.0},{"a":3.884,"p":125.7},{"a":3.902,"p":144.4},{"a":3.908,"p":130.3},{"a":3.912,"p":128.4},{"a":3.919,"p":137.9},{"a":3.915,"p":171.2},{"a":3.932,"p":174.3},{"a":3.938,"p":178.5},{"a":3.948,"p":161.6},{"a":3.933,"p":118.8},{"a":3.875,"p":103.1},{"a":3.886,"p":100.5},{"a":3.899,"p":98.2},{"a":3.905,"p":98.5},{"a":3.864,"p":84.0},{"a":3.876,"p":78.2},{"a":3.840,"p":78.2},{"a":3.846,"p":74.8},{"a":3.849,"p":74.1},{"a":3.840,"p":74.1},{"a":3.842,"p":62.9},{"a":3.847,"p":90.8},{"a":3.853,"p":54.9},{"a":3.866,"p":52.3},{"a":3.877,"p":62.1},{"a":3.881,"p":46.9},{"a":3.893,"p":57.6},{"a":3.893,"p":46.9},{"a":3.848,"p":36.2},{"a":3.853,"p":37.4},{"a":3.845,"p":28.2},{"a":3.851,"p":23.6},{"a":3.855,"p":23.9},{"a":3.864,"p":25.9},{"a":3.867,"p":20.9},{"a":3.871,"p":18.2},{"a":3.853,"p":12.5},{"a":3.845,"p":3.7},{"a":3.848,"p":4.4},{"a":3.881,"p":6.4},{"a":3.885,"p":1.0},{"a":3.885,"p":22.0},
{"a":3.958,"p":155.9},{"a":3.972,"p":143.3},{"a":3.973,"p":160.1},{"a":3.989,"p":166.2},{"a":3.998,"p":160.8},{"a":4.018,"p":170.8},{"a":4.030,"p":149.4},{"a":3.999,"p":127.6},{"a":3.979,"p":123.0},{"a":4.003,"p":108.0},{"a":4.016,"p":88.5},{"a":4.032,"p":110.8},{"a":4.026,"p":64.1},{"a":4.032,"p":43.1},{"a":4.037,"p":27.0},{"a":4.038,"p":22.0},{"a":4.032,"p":27.8},{"a":4.033,"p":23.1},{"a":4.042,"p":15.6},{"a":4.034,"p":11.7},{"a":4.033,"p":6.7},{"a":4.033,"p":1.8},{"a":4.053,"p":177.7},{"a":4.079,"p":172.0},{"a":4.136,"p":176.2},{"a":4.162,"p":178.9},{"a":4.167,"p":175.8},{"a":4.195,"p":176.6},{"a":4.198,"p":177.7},{"a":4.060,"p":59.8},{"a":4.097,"p":113.8},{"a":4.104,"p":106.2},{"a":4.092,"p":95.4},{"a":4.092,"p":82.1},{"a":4.097,"p":67.9},{"a":4.101,"p":56.8},{"a":4.127,"p":95.1},{"a":4.162,"p":80.2},{"a":4.185,"p":68.3},{"a":4.198,"p":71.0},{"a":4.120,"p":28.9},{"a":4.126,"p":32.0},{"a":4.105,"p":17.4},{"a":4.057,"p":-2.8},{"a":4.151,"p":-4.0},
{"a":3.707,"p":-6.7},{"a":3.711,"p":-4.7},{"a":3.707,"p":-17.0},{"a":3.805,"p":-15.1},{"a":3.702,"p":-59.5},{"a":3.710,"p":-79.7},{"a":3.701,"p":-90.0},{"a":3.719,"p":-51.8},{"a":3.723,"p":-48.7},{"a":3.734,"p":-58.7},{"a":3.739,"p":-61.8},{"a":3.732,"p":-78.2},{"a":3.732,"p":-88.2},{"a":3.751,"p":-79.0},{"a":3.753,"p":-83.9},{"a":3.747,"p":-106.1},{"a":3.768,"p":-27.7},{"a":3.797,"p":-23.5},{"a":3.801,"p":-44.1},{"a":3.806,"p":-50.3},{"a":3.806,"p":-68.7},{"a":3.819,"p":-87.7},{"a":3.826,"p":-9.7},{"a":3.834,"p":-11.6},{"a":3.839,"p":-15.4},{"a":3.831,"p":-22.0},{"a":3.825,"p":-35.7},{"a":3.856,"p":-8.5},{"a":3.852,"p":-27.4},{"a":3.858,"p":-23.5},{"a":3.864,"p":-44.6},{"a":3.839,"p":-53.3},{"a":3.848,"p":-51.8},{"a":3.855,"p":-56.7},{"a":3.828,"p":-55.6},{"a":3.833,"p":-62.5},{"a":3.827,"p":-68.2},{"a":3.854,"p":-76.3},{"a":3.862,"p":-88.2},{"a":3.831,"p":-93.9},{"a":3.830,"p":-101.9},{"a":3.839,"p":-93.9},{"a":3.851,"p":-102.6},{"a":3.873,"p":-67.1},{"a":3.879,"p":-60.6},{"a":3.880,"p":-63.6},{"a":3.874,"p":-85.1},{"a":3.881,"p":-20.8},{"a":3.884,"p":-13.1},{"a":3.886,"p":-4.0},{"a":3.889,"p":3.7},{"a":3.886,"p":-47.6},{"a":3.893,"p":-49.2},{"a":3.891,"p":-97.7},{"a":3.896,"p":-105.4},{"a":3.900,"p":-103.5},{"a":3.901,"p":-112.6},{"a":3.707,"p":-119.2},{"a":3.708,"p":-141.7},{"a":3.709,"p":-164.3},{"a":3.726,"p":-163.5},{"a":3.724,"p":-174.6},{"a":3.701,"p":-179.5},{"a":3.710,"p":-178.4},{"a":3.737,"p":-137.5},{"a":3.770,"p":-119.2},{"a":3.775,"p":-107.2},{"a":3.782,"p":-102.0},{"a":3.762,"p":-158.2},{"a":3.775,"p":-160.5},{"a":3.780,"p":-170.4},{"a":3.805,"p":-141.3},{"a":3.807,"p":-125.3},{"a":3.820,"p":-126.1},{"a":3.824,"p":-123.0},{"a":3.821,"p":-135.6},{"a":3.825,"p":-146.7},{"a":3.827,"p":-142.8},{"a":3.833,"p":-145.1},{"a":3.814,"p":-158.2},{"a":3.825,"p":-160.0},{"a":3.828,"p":-156.6},{"a":3.822,"p":-168.9},{"a":3.853,"p":-116.4},{"a":3.853,"p":-129.0},{"a":3.858,"p":-124.1},{"a":3.862,"p":-121.8},{"a":3.875,"p":-117.2},{"a":3.878,"p":-126.3},{"a":3.882,"p":-138.7},{"a":3.883,"p":-146.7},{"a":3.894,"p":-148.5},{"a":3.893,"p":-133.6},{"a":3.852,"p":-160.5},{"a":3.855,"p":-160.5},{"a":3.851,"p":-172.7},{"a":3.878,"p":-168.5},{"a":3.889,"p":-166.2},{"a":3.909,"p":-149.7},{"a":3.918,"p":-150.8},{"a":3.922,"p":-161.2},{"a":3.914,"p":-175.8},{"a":3.917,"p":-166.9},{"a":3.913,"p":-127.1},{"a":3.928,"p":-129.0},{"a":3.933,"p":-122.6},{"a":3.932,"p":-125.6},{"a":3.932,"p":-142.5},{"a":3.940,"p":-168.1},
{"a":4.035,"p":-19.3},{"a":4.038,"p":-15.1},{"a":4.041,"p":-9.0},{"a":4.046,"p":-28.5},{"a":4.049,"p":-41.5},{"a":4.077,"p":-10.1},{"a":4.077,"p":-33.4},{"a":4.102,"p":-18.2},{"a":4.115,"p":-19.3},{"a":4.130,"p":-30.0},{"a":4.159,"p":-7.4},{"a":4.195,"p":-24.6},{"a":4.104,"p":-47.6},{"a":4.105,"p":-64.8},{"a":4.100,"p":-76.3},{"a":4.143,"p":-65.9},{"a":4.162,"p":-71.3},{"a":4.187,"p":-62.5},{"a":4.150,"p":-90.8},{"a":4.142,"p":-96.6},{"a":4.086,"p":-98.5},{"a":4.060,"p":-101.5},{"a":4.068,"p":-104.6},{"a":4.108,"p":-104.6},{"a":4.120,"p":-105.4},{"a":4.115,"p":-114.6},{"a":4.114,"p":-118.4},{"a":4.128,"p":-119.9},{"a":4.139,"p":-122.2},{"a":4.141,"p":-119.5},{"a":4.177,"p":-124.9},{"a":4.166,"p":-132.5},{"a":4.157,"p":-135.9},{"a":4.090,"p":-122.6},{"a":4.102,"p":-130.6},{"a":3.990,"p":-116.4},{"a":3.992,"p":-135.2},{"a":4.031,"p":-130.6},{"a":4.047,"p":-141.0},{"a":4.073,"p":-145.9},{"a":4.095,"p":-150.8},{"a":4.108,"p":-160.8},{"a":4.157,"p":-172.7},{"a":4.097,"p":-177.3},{"a":3.973,"p":-144.0},{"a":3.968,"p":-158.9},{"a":3.995,"p":-156.6},{"a":4.006,"p":-159.7},{"a":4.020,"p":-162.0},{"a":3.980,"p":-178.8}
 ],
 "el": [
{"a":4.031,"p":0,"o":0},{"a":4.0299,"p":21.7,"o":1},{"a":4.0267,"p":42.75,"o":2},{"a":4.0216,"p":62.5,"o":3},{"a":4.0145,"p":80.35,"o":4},{"a":4.0058,"p":95.75,"o":5},{"a":3.9958,"p":108.25,"o":6},{"a":3.9846,"p":117.46,"o":7},{"a":3.9727,"p":123.1,"o":8},{"a":3.9605,"p":125,"o":9},{"a":3.9483,"p":123.1,"o":10},{"a":3.9364,"p":117.46,"o":11},{"a":3.9252,"p":108.25,"o":12},{"a":3.9152,"p":95.75,"o":13},{"a":3.9065,"p":80.35,"o":14},{"a":3.8994,"p":62.5,"o":15},{"a":3.8943,"p":42.75,"o":16},{"a":3.8911,"p":21.7,"o":17},{"a":3.89,"p":0,"o":18},{"a":3.8911,"p":-21.7,"o":19},{"a":3.8943,"p":-42.75,"o":20},{"a":3.8994,"p":-62.5,"o":21},{"a":3.9065,"p":-80.35,"o":22},{"a":3.9152,"p":-95.75,"o":23},{"a":3.9252,"p":-108.25,"o":24},{"a":3.9364,"p":-117.46,"o":25},{"a":3.9483,"p":-123.1,"o":26},{"a":3.9605,"p":-125,"o":27},{"a":3.9727,"p":-123.1,"o":28},{"a":3.9846,"p":-117.46,"o":29},{"a":3.9958,"p":-108.25,"o":30},{"a":4.0058,"p":-95.75,"o":31},{"a":4.0145,"p":-80.35,"o":32},{"a":4.0216,"p":-62.5,"o":33},{"a":4.0267,"p":-42.75,"o":34},{"a":4.0299,"p":-21.7,"o":35},{"a":4.031,"p":0,"o":36}
 ],
 "vl": [{"a":3.9605}]
},
"hconcat": [
 {
  "width": 482.5, "height": 313.7,
  "layer": [
   {"data": {"name": "lc"}, "mark": {"type": "point", "filled": true, "shape": "circle", "size": 215, "opacity": 1, "clip": true},
    "encoding": {
     "x": {"field": "a", "type": "quantitative", "title": "a[au]", "scale": {"domain": [3.7, 4.2], "nice": false, "zero": false}, "axis": {"values": [3.7, 3.8, 3.9, 4.0, 4.1, 4.2], "format": ".1f", "labelOverlap": false, "tickCount": 12}},
     "y": {"field": "e", "type": "quantitative", "title": "e", "scale": {"domain": [0, 0.4], "nice": false, "zero": false}, "axis": {"values": [0, 0.05, 0.1, 0.15, 0.2, 0.25, 0.3, 0.35, 0.4], "format": ".2f", "labelOverlap": false, "tickCount": 20}},
     "color": {"datum": "Hildas", "type": "nominal", "scale": {"domain": ["Hildas", "quasi-Hildas"], "range": ["#ff0000", "#0000ff"]}, "legend": {"orient": "bottom-left"}}
    }},
   {"data": {"name": "lm"}, "mark": {"type": "point", "filled": true, "shape": "circle", "size": 16, "opacity": 1, "clip": true},
    "encoding": {
     "x": {"field": "a", "type": "quantitative", "title": "a[au]"},
     "y": {"field": "e", "type": "quantitative", "title": "e"},
     "color": {"datum": "Hildas", "type": "nominal"}
    }},
   {"data": {"name": "lr"}, "mark": {"type": "point", "filled": true, "shape": "circle", "size": 12, "opacity": 1, "clip": true},
    "encoding": {
     "x": {"field": "a", "type": "quantitative", "title": "a[au]"},
     "y": {"field": "e", "type": "quantitative", "title": "e"},
     "color": {"datum": "Hildas", "type": "nominal"}
    }},
   {"data": {"name": "lb"}, "mark": {"type": "point", "filled": true, "shape": "circle", "size": 10, "opacity": 1, "clip": true},
    "encoding": {
     "x": {"field": "a", "type": "quantitative", "title": "a[au]"},
     "y": {"field": "e", "type": "quantitative", "title": "e"},
     "color": {"datum": "quasi-Hildas", "type": "nominal"}
    }},
   {"data": {"name": "lp"}, "mark": {"type": "line", "color": "black", "strokeWidth": 2.2, "clip": true},
    "encoding": {
     "x": {"field": "a", "type": "quantitative", "title": "a[au]"},
     "y": {"field": "e", "type": "quantitative", "title": "e"}
    }}
  ]
 },
 {
  "width": 482.7, "height": 313.7,
  "layer": [
   {"data": {"name": "rc"}, "mark": {"type": "point", "filled": true, "shape": "circle", "size": 215, "opacity": 1, "clip": true},
    "encoding": {
     "x": {"field": "a", "type": "quantitative", "title": "a[au]", "scale": {"domain": [3.7, 4.2], "nice": false, "zero": false}, "axis": {"values": [3.7, 3.8, 3.9, 4.0, 4.1, 4.2], "format": ".1f", "labelOverlap": false, "tickCount": 12}},
     "y": {"field": "p", "type": "quantitative", "title": "ϕ[°]", "scale": {"domain": [-180, 180], "nice": false, "zero": false}, "axis": {"values": [-150, -100, -50, 0, 50, 100, 150], "labelOverlap": false, "tickCount": 20}},
     "color": {"datum": "Hildas", "type": "nominal", "scale": {"domain": ["Hildas", "quasi-Hildas"], "range": ["#ff0000", "#0000ff"]}, "legend": {"orient": "top-right"}}
    }},
   {"data": {"name": "rm"}, "mark": {"type": "point", "filled": true, "shape": "circle", "size": 16, "opacity": 1, "clip": true},
    "encoding": {
     "x": {"field": "a", "type": "quantitative", "title": "a[au]"},
     "y": {"field": "p", "type": "quantitative", "title": "ϕ[°]"},
     "color": {"datum": "Hildas", "type": "nominal"}
    }},
   {"data": {"name": "rr"}, "mark": {"type": "point", "filled": true, "shape": "circle", "size": 12, "opacity": 1, "clip": true},
    "encoding": {
     "x": {"field": "a", "type": "quantitative", "title": "a[au]"},
     "y": {"field": "p", "type": "quantitative", "title": "ϕ[°]"},
     "color": {"datum": "Hildas", "type": "nominal"}
    }},
   {"data": {"name": "rb"}, "mark": {"type": "point", "filled": true, "shape": "circle", "size": 10, "opacity": 1, "clip": true},
    "encoding": {
     "x": {"field": "a", "type": "quantitative", "title": "a[au]"},
     "y": {"field": "p", "type": "quantitative", "title": "ϕ[°]"},
     "color": {"datum": "quasi-Hildas", "type": "nominal"}
    }},
   {"data": {"name": "el"}, "mark": {"type": "line", "color": "black", "strokeWidth": 2.2, "clip": true, "interpolate": "cardinal"},
    "encoding": {
     "x": {"field": "a", "type": "quantitative", "title": "a[au]"},
     "y": {"field": "p", "type": "quantitative", "title": "ϕ[°]"},
     "order": {"field": "o", "type": "quantitative"}
    }},
   {"data": {"name": "vl"}, "mark": {"type": "rule", "color": "black", "strokeWidth": 2.2},
    "encoding": {
     "x": {"field": "a", "type": "quantitative", "title": "a[au]"}
    }}
  ]
 }
]
}
